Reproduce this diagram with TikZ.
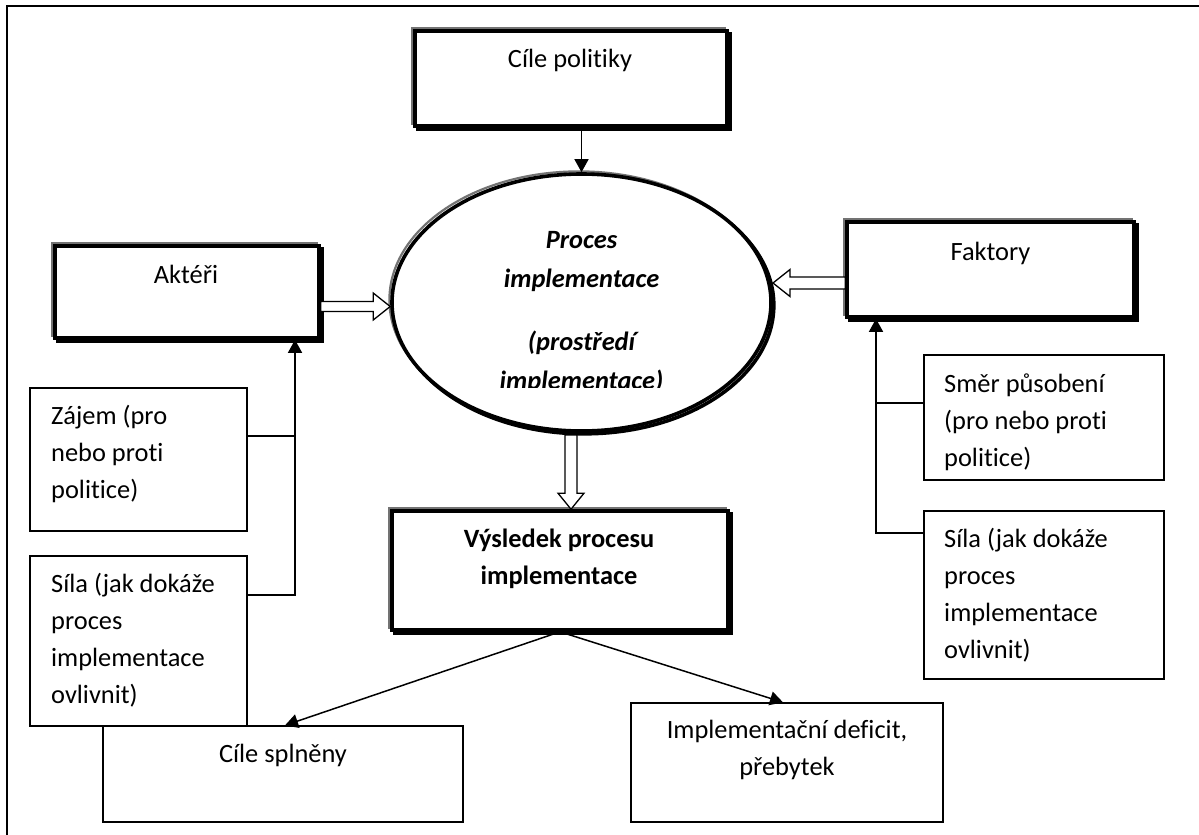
\documentclass[tikz,border=0pt]{standalone}
\usepackage{fontspec}
\setmainfont{Carlito}[Ligatures={NoCommon}]
\usetikzlibrary{arrows.meta,shapes.geometric,calc}
\begin{document}
\begin{tikzpicture}[x=1pt,y=-1pt,
  every node/.style={inner sep=0pt},
  heavy/.style={draw=black, fill=white, line width=3.6pt,
    preaction={draw=black, line width=3.6pt, transform canvas={shift={(2.8pt,-2.8pt)}}},
    preaction={draw=black!55, line width=2.2pt, transform canvas={shift={(-2.6pt,2.6pt)}}}},
  thinbox/.style={draw=black, line width=1.3pt, rectangle},
  txt/.style={font=\fontsize{26.4}{37.3}\selectfont},
  btxt/.style={font=\fontsize{26.4}{37.3}\selectfont\bfseries},
  etxt/.style={font=\fontsize{26.4}{37.3}\selectfont\bfseries\itshape},
  conn/.style={draw=black, line width=1.5pt},
  tip/.style={-{Triangle[length=13pt,width=14pt]}},
  hollow/.style={draw=black, fill=white, line width=1.3pt, line join=miter}
]
\useasboundingbox (0,0) rectangle (1199,835);
% outer frame (only top and left edges fall inside the picture)
\draw[line width=1.8pt] (7,845) -- (7,6) -- (1210,6);

% heavy boxes
\node[heavy, minimum width=312, minimum height=95] (cile) at (571,78.5) {};
\node[heavy, minimum width=264, minimum height=92] (akt) at (187,292) {};
\node[heavy, minimum width=287, minimum height=95] (fak) at (990.5,269.5) {};
\node[heavy, minimum width=336, minimum height=119] (vys) at (560,570.5) {};
\node[heavy, ellipse, minimum width=379, minimum height=257] (ell) at (581.5,302.5) {};

% thin boxes
\node[thinbox, minimum width=217, minimum height=143] (zaj) at (138.5,459.5) {};
\node[thinbox, minimum width=217, minimum height=170] (silaL) at (138.5,641) {};
\node[thinbox, minimum width=360, minimum height=96] (cspl) at (283,774) {};
\node[thinbox, minimum width=312, minimum height=119] (impl) at (787,762.5) {};
\node[thinbox, minimum width=240, minimum height=125] (smer) at (1044,417.5) {};
\node[thinbox, minimum width=240, minimum height=168] (silaR) at (1044,595) {};

% texts
\node[txt, anchor=base] (tcile) at (570,67) {Cíle politiky};
\node[txt, anchor=base] (takt) at (186,283) {Aktéři};
\node[txt, anchor=base] (tfak) at (990.5,260) {Faktory};
\begin{scope}
  \clip (380,190) rectangle (790,387.5);
  \node[etxt, anchor=base] (te1) at (581.5,248) {Proces};
  \node[etxt, anchor=base] (te2) at (581.5,287) {implementace};
  \node[etxt, anchor=base] (te3) at (581.5,350) {(prostředí};
  \node[etxt, anchor=base] (te4) at (581.5,389) {implementace)};
\end{scope}
\node[btxt, anchor=base] (tvys) at (559,547) {\begin{tabular}[t]{@{}c@{}}Výsledek procesu\\implementace\end{tabular}};
\node[txt, anchor=base west] (tzaj) at (51,424) {\begin{tabular}[t]{@{}l@{}}Zájem (pro\\nebo proti\\politice)\end{tabular}};
\node[txt, anchor=base west] (tsilaL) at (51,592) {\begin{tabular}[t]{@{}l@{}}Síla (jak dokáže\\proces\\implementace\\ovlivnit)\end{tabular}};
\node[txt, anchor=base west] (tsmer) at (944,392) {\begin{tabular}[t]{@{}l@{}}Směr působení\\(pro nebo proti\\politice)\end{tabular}};
\node[txt, anchor=base west] (tsilaR) at (944,547) {\begin{tabular}[t]{@{}l@{}}Síla (jak dokáže\\proces\\implementace\\ovlivnit)\end{tabular}};
\node[txt, anchor=base] (tcspl) at (283,762) {Cíle splněny};
\node[txt, anchor=base] (timpl) at (787,738) {\begin{tabular}[t]{@{}c@{}}Implementační deficit,\\přebytek\end{tabular}};

% connectors
\draw[conn, tip] (cile.south -| ell.north) -- (ell.north);

\coordinate (jz) at (295,436);
\coordinate (jl) at (295,595);
\draw[conn] (zaj.east |- jz) -- (jz);
\draw[conn, tip] (silaL.east |- jl) -- (jl) -- (jl |- akt.south);

\coordinate (js) at (876,403);
\coordinate (jr) at (876,533);
\draw[conn] (smer.west |- js) -- (js);
\draw[conn, tip] (silaR.west |- jr) -- (jr) -- (jr |- fak.south);

\draw[conn, tip] (vys.south) -- ($(cspl.north)+(2,0)$);
\draw[conn, tip] (vys.south) -- ($(impl.north)+(-4,0)$);

% hollow block arrows
\coordinate (hl) at ($(ell.west)+(0,4)$);
\draw[hollow] ($(akt.east |- hl)+(0,-5)$) -- ($(hl)+(-17,-5)$) -- ($(hl)+(-17,-13.5)$) -- (hl)
  -- ($(hl)+(-17,13.5)$) -- ($(hl)+(-17,5)$) -- ($(akt.east |- hl)+(0,5)$) -- cycle;

\coordinate (hr) at (773,283);
\draw[hollow] ($(fak.west |- hr)+(0,-6)$) -- ($(hr)+(17,-6)$) -- ($(hr)+(17,-13.5)$) -- (hr)
  -- ($(hr)+(17,13.5)$) -- ($(hr)+(17,6)$) -- ($(fak.west |- hr)+(0,6)$) -- cycle;

\coordinate (hdT) at (571,435);
\coordinate (hd) at (vys.north -| hdT);
\draw[hollow] ($(hdT)+(-6,0)$) -- ($(hd)+(-6,-16)$) -- ($(hd)+(-13,-16)$) -- (hd)
  -- ($(hd)+(13,-16)$) -- ($(hd)+(6,-16)$) -- ($(hdT)+(6,0)$) -- cycle;
\end{tikzpicture}
\end{document}
